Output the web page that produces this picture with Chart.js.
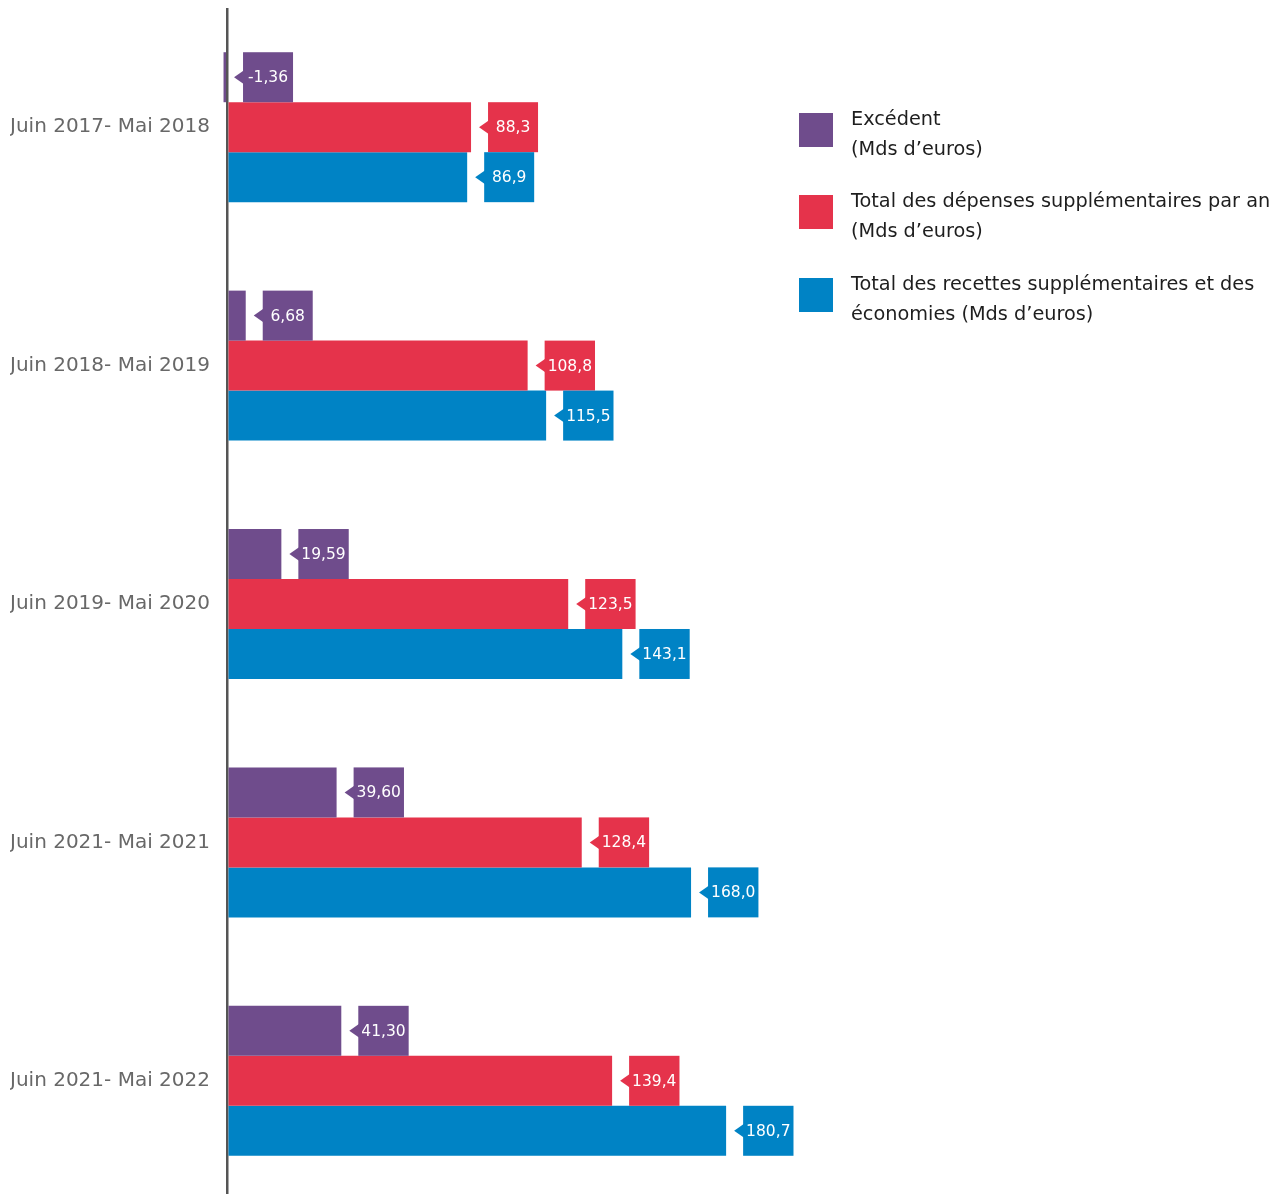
<!DOCTYPE html>
<html>
<head>
<meta charset="utf-8">
<script src="https://cdn.jsdelivr.net/npm/chart.js"></script>
<style>
  html, body { margin: 0; padding: 0; background: #fff; overflow: hidden; width: 1274px; height: 1194px; }
  #wrap { position: relative; width: 1274px; height: 1194px; overflow: hidden; }
  #legend { position: absolute; left: 799px; top: 0; font-family: "DejaVu Sans", sans-serif; font-size: 19.3px; line-height: 30px; color: #1e1e1e; }
  .item { position: absolute; left: 0; width: 480px; }
  .item .sq { position: absolute; left: 0; top: 0; width: 34px; height: 34px; }
  .item .tx { position: absolute; left: 52px; top: -9px; white-space: nowrap; }
</style>
</head>
<body>
<div id="wrap">
  <canvas id="chart" width="1274" height="1210"></canvas>
  <div id="legend"></div>
</div>
<script>
const periodes = ['Juin 2017- Mai 2018', 'Juin 2018- Mai 2019', 'Juin 2019- Mai 2020', 'Juin 2021- Mai 2021', 'Juin 2021- Mai 2022']
const excedent = [-1.36, 6.68, 19.59, 39.60, 41.30]
const depenses = [88.3, 108.8, 123.5, 128.4, 139.4]
const recettes = [86.9, 115.5, 143.1, 168.0, 180.7]
const excedentTxt = ['-1,36', '6,68', '19,59', '39,60', '41,30']
const depensesTxt = ['88,3', '108,8', '123,5', '128,4', '139,4']
const recettesTxt = ['86,9', '115,5', '143,1', '168,0', '180,7']
const legendeTxt = [
  ['Excédent', '(Mds d’euros)'],
  ['Total des dépenses supplémentaires par an', '(Mds d’euros)'],
  ['Total des recettes supplémentaires et des', 'économies (Mds d’euros)']
]

const violet = '#6f4c8c'
const rouge = '#e5334b'
const bleu = '#0083c5'

// etiquettes avec petite fleche a gauche
const etiquettes = {
  id: 'etiquettes',
  afterDatasetsDraw(chart) {
    const ctx = chart.ctx
    ctx.save()
    ctx.font = '15.5px "DejaVu Sans", sans-serif'
    ctx.textAlign = 'center'
    ctx.textBaseline = 'middle'
    chart.data.datasets.forEach((ds, i) => {
      const meta = chart.getDatasetMeta(i)
      meta.data.forEach((bar, j) => {
        const txt = ds.etiquettes[j]
        const fin = Math.max(bar.x, bar.base)
        const w = Math.max(50, ctx.measureText(txt).width + 6)
        const h = bar.height
        const x0 = fin + 17
        const y0 = bar.y - h / 2
        ctx.fillStyle = ds.backgroundColor
        ctx.fillRect(x0, y0, w, h)
        ctx.beginPath()
        ctx.moveTo(x0 + 1, bar.y - 7)
        ctx.lineTo(x0 - 9, bar.y)
        ctx.lineTo(x0 + 1, bar.y + 7)
        ctx.closePath()
        ctx.fill()
        ctx.fillStyle = '#fff'
        ctx.fillText(txt, x0 + w / 2, bar.y + 1)
      })
    })
    ctx.restore()
  }
}

new Chart('chart', {
  type: 'bar',
  data: {
    labels: periodes,
    datasets: [
      { label: legendeTxt[0].join(' '), data: excedent, etiquettes: excedentTxt, backgroundColor: violet },
      { label: legendeTxt[1].join(' '), data: depenses, etiquettes: depensesTxt, backgroundColor: rouge },
      { label: legendeTxt[2].join(' '), data: recettes, etiquettes: recettesTxt, backgroundColor: bleu }
    ]
  },
  options: {
    indexAxis: 'y',
    responsive: false,
    animation: false,
    layout: { padding: { left: 10, right: 467, top: 8, bottom: 10 } },
    datasets: { bar: { barPercentage: 1, categoryPercentage: 0.629, borderWidth: 0 } },
    plugins: { legend: { display: false }, tooltip: { enabled: false } },
    scales: {
      x: {
        min: -3,
        max: 210,
        afterBuildTicks: (scale) => { scale.ticks = [{ value: 0 }] },
        ticks: { display: false },
        border: { display: false },
        grid: { color: '#555', lineWidth: 2.5, drawTicks: false }
      },
      y: {
        afterFit: (scale) => {
          scale.width = 209
          scale.paddingTop = 0
          scale.paddingBottom = 0
        },
        border: { display: false },
        grid: { display: false },
        ticks: {
          crossAlign: 'far',
          padding: 0,
          color: '#686868',
          font: { family: '"DejaVu Sans", sans-serif', size: 20 }
        }
      }
    }
  },
  plugins: [etiquettes]
})

// legende en html
const couleurs = [violet, rouge, bleu]
const hauts = [113, 195, 278]
const legende = document.getElementById('legend')
legendeTxt.forEach((lignes, i) => {
  const item = document.createElement('div')
  item.className = 'item'
  item.style.top = hauts[i] + 'px'
  item.innerHTML = `<div class="sq" style="background:${couleurs[i]}"></div><div class="tx">${lignes.join('<br>')}</div>`
  legende.appendChild(item)
})
</script>
</body>
</html>
